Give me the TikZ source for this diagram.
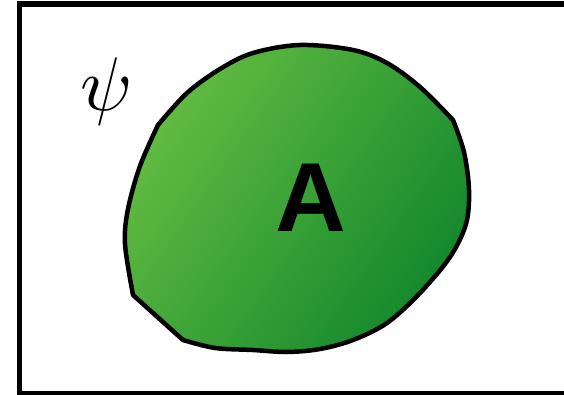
\documentclass[tikz,border=0pt]{standalone}
\usepackage{fontspec}
\newfontfamily\labelfont{Liberation Sans}
\definecolor{blobLight}{RGB}{100,188,66}
\definecolor{blobDark}{RGB}{18,136,44}
\tikzset{
  frame/.style={draw=black, line width=5.5pt},
  blob/.style={draw=black, line width=4.5pt, line join=round},
}
\begin{document}
\begin{tikzpicture}[x=1pt,y=1pt]
\useasboundingbox (0,0) rectangle (564,394);
\draw[frame] (19.5,0.5) rectangle (575,390);
\path[blob, left color=blobLight, right color=blobDark, shading angle=55]
  plot[smooth, tension=0.55] coordinates {
    (133,99) (125,150) (128,185) (140,228) (158,269)}
  -- plot[smooth, tension=0.55] coordinates {
    (158,269) (187,301) (220,325) (253,341) (300,349) (353,344)
    (387,331) (420,307) (453,274)}
  -- plot[smooth, tension=0.55] coordinates {
    (453,274) (464,242) (469,204) (466,170) (450,137) (420,101)
    (387,71) (353,54) (320,45) (287,42) (253,44) (215,46) (183,54)}
  -- cycle;
\node[inner sep=0pt] (A) at (311,196) {\labelfont\bfseries\fontsize{98}{100}\selectfont A};
\node[inner sep=0pt, anchor=base, scale=7.6] (psi) at (107,283) {$\psi$};
\end{tikzpicture}
\end{document}
